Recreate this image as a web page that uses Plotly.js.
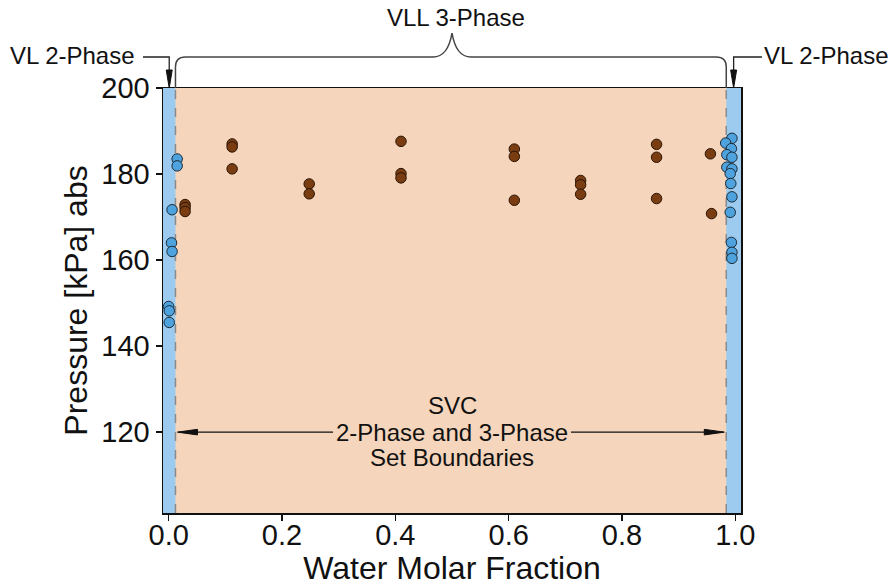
<!DOCTYPE html>
<html><head><meta charset="utf-8">
<script src="https://cdn.plot.ly/plotly-3.0.1.min.js"></script>
<style>html,body{margin:0;padding:0;background:#fff}</style>
</head><body><div id="chart" style="width:888px;height:586px"></div>
<script>
// ---- data ----
const vlLeftWater = [0.015, 0.015, 0.006, 0.005, 0.006, 0.000, 0.001, 0.001];
const vlLeftPressure = [183.5, 181.9, 171.7, 164.0, 162.0, 149.2, 148.2, 145.5];
const vlRightWater = [0.994, 0.983, 0.993, 0.985, 0.994, 0.985, 0.994, 0.991, 0.992, 0.994, 0.991, 0.993, 0.994, 0.994];
const vlRightPressure = [188.3, 187.2, 185.9, 184.5, 183.9, 181.6, 181.2, 180.1, 177.8, 174.7, 171.1, 164.1, 161.8, 160.4];
const vllWater = [0.029, 0.029, 0.029, 0.112, 0.112, 0.112, 0.248, 0.248, 0.41, 0.41, 0.41,
                  0.61, 0.61, 0.61, 0.727, 0.727, 0.727, 0.861, 0.861, 0.861, 0.956, 0.958];
const vllPressure = [172.9, 172.2, 171.3, 187.0, 186.3, 181.2, 177.7, 175.4, 187.6, 180.1, 179.1,
                     185.8, 184.1, 173.9, 178.5, 177.5, 175.3, 186.9, 183.9, 174.3, 184.7, 170.8];
const boundaryLeft = 0.012;
const boundaryRight = 0.984;
const xTicks = [0, 0.2, 0.4, 0.6, 0.8, 1.0];
const yTicks = [120, 140, 160, 180, 200];

// ---- geometry ----
const W = 888, H = 586;
const M = {l: 163, r: 147, t: 88, b: 73};
const xRange = [-0.01, 1.01], yRange = [101.2, 200];
const pw = W - M.l - M.r, ph = H - M.t - M.b;
const dx2px = x => M.l + (x - xRange[0]) / (xRange[1] - xRange[0]) * pw;
const dy2px = y => M.t + (yRange[1] - y) / (yRange[1] - yRange[0]) * ph;
const px2paperX = px => (px - M.l) / pw;
const px2paperY = py => (M.t + ph - py) / ph;
const pt = (px, py) => px2paperX(px).toFixed(5) + ',' + px2paperY(py).toFixed(5);

const peach = '#f5d5bb', band = '#9ccbef';
const font = 'Liberation Sans, Arial, Helvetica, sans-serif';

const xl = dx2px(boundaryLeft), xr = dx2px(boundaryRight), xm = dx2px(0.5);
const yTop = M.t, yBr = 57, yTip = 33;
const bracePath = `M${pt(xl, yTop)} L${pt(xl, yBr + 10)} Q${pt(xl, yBr)} ${pt(xl + 10, yBr)} L${pt(xm - 19, yBr)} ` +
  `C${pt(xm - 7, yBr)} ${pt(xm - 2, yBr - 12)} ${pt(xm, yTip)} C${pt(xm + 2, yBr - 12)} ${pt(xm + 7, yBr)} ${pt(xm + 19, yBr)} ` +
  `L${pt(xr - 10, yBr)} Q${pt(xr, yBr)} ${pt(xr, yBr + 10)} L${pt(xr, yTop)}`;

const aL = dx2px((xRange[0] + boundaryLeft) / 2), aR = dx2px((boundaryRight + xRange[1]) / 2);
const elbowL = `M${pt(143, yBr)} L${pt(aL, yBr)} L${pt(aL, 75)}`;
const elbowR = `M${pt(762, yBr)} L${pt(aR, yBr)} L${pt(aR, 75)}`;
const tri = (x, y0, y1) => `M${pt(x - 3, y0)} L${pt(x + 3, y0)} L${pt(x, y1)} Z`;

const yA = dy2px(120);
const gap = 119;
const dblLine = `M${pt(xl + 3, yA)} L${pt(xm - gap, yA)} M${pt(xm + gap, yA)} L${pt(xr - 3, yA)}`;
const headL = `M${pt(xl + 2, yA)} L${pt(xl + 22, yA - 2.8)} L${pt(xl + 22, yA + 2.8)} Z`;
const headR = `M${pt(xr - 2, yA)} L${pt(xr - 22, yA - 2.8)} L${pt(xr - 22, yA + 2.8)} Z`;

const markerBlue = {size: 10.5, color: '#4ea3df', line: {color: '#1c2a36', width: 1}};
const markerBrown = {size: 10.5, color: '#7a3d12', line: {color: '#2a1505', width: 1}};

const traces = [
  {x: vlLeftWater, y: vlLeftPressure, type: 'scatter', mode: 'markers', marker: markerBlue, name: 'VL 2-Phase'},
  {x: vlRightWater, y: vlRightPressure, type: 'scatter', mode: 'markers', marker: markerBlue, name: 'VL 2-Phase'},
  {x: vllWater, y: vllPressure, type: 'scatter', mode: 'markers', marker: markerBrown, name: 'VLL 3-Phase'}
];

const shapes = [
  {type: 'rect', xref: 'x', yref: 'paper', x0: xRange[0], x1: boundaryLeft, y0: 0, y1: 1, fillcolor: band, line: {width: 0}, layer: 'below'},
  {type: 'rect', xref: 'x', yref: 'paper', x0: boundaryRight, x1: xRange[1], y0: 0, y1: 1, fillcolor: band, line: {width: 0}, layer: 'below'},
  {type: 'line', xref: 'x', yref: 'paper', x0: boundaryLeft, x1: boundaryLeft, y0: 0, y1: 1, line: {color: '#8a8a8a', width: 1.5, dash: 'dash'}, layer: 'below'},
  {type: 'line', xref: 'x', yref: 'paper', x0: boundaryRight, x1: boundaryRight, y0: 0, y1: 1, line: {color: '#8a8a8a', width: 1.5, dash: 'dash'}, layer: 'below'},
  {type: 'path', xref: 'paper', yref: 'paper', path: bracePath, line: {color: '#444', width: 1.5}},
  {type: 'path', xref: 'paper', yref: 'paper', path: elbowL, line: {color: '#222', width: 1.3}},
  {type: 'path', xref: 'paper', yref: 'paper', path: elbowR, line: {color: '#222', width: 1.3}},
  {type: 'path', xref: 'paper', yref: 'paper', path: tri(aL, 70, 88), fillcolor: '#111', line: {color: '#111', width: 1}},
  {type: 'path', xref: 'paper', yref: 'paper', path: tri(aR, 70, 88), fillcolor: '#111', line: {color: '#111', width: 1}},
  {type: 'path', xref: 'paper', yref: 'paper', path: dblLine, line: {color: '#111', width: 1.3}},
  {type: 'path', xref: 'paper', yref: 'paper', path: headL, fillcolor: '#111', line: {color: '#111', width: 1}},
  {type: 'path', xref: 'paper', yref: 'paper', path: headR, fillcolor: '#111', line: {color: '#111', width: 1}}
];

const annFont = {family: font, size: 24, color: '#111'};
const annotations = [
  {xref: 'paper', yref: 'paper', x: px2paperX(xm + 4), y: px2paperY(18), text: 'VLL 3-Phase', showarrow: false, font: annFont, xanchor: 'center', yanchor: 'middle'},
  {xref: 'paper', yref: 'paper', x: px2paperX(137), y: px2paperY(55), text: 'VL 2-Phase', showarrow: false, font: annFont, xanchor: 'right', yanchor: 'middle'},
  {xref: 'paper', yref: 'paper', x: px2paperX(762), y: px2paperY(55), text: 'VL 2-Phase', showarrow: false, font: annFont, xanchor: 'left', yanchor: 'middle'},
  {xref: 'paper', yref: 'paper', x: px2paperX(xm), y: px2paperY(405), text: 'SVC', showarrow: false, font: annFont, xanchor: 'center', yanchor: 'middle'},
  {xref: 'paper', yref: 'paper', x: px2paperX(xm), y: px2paperY(yA), text: '2-Phase and 3-Phase', showarrow: false, font: annFont, xanchor: 'center', yanchor: 'middle', borderpad: 0},
  {xref: 'paper', yref: 'paper', x: px2paperX(xm), y: px2paperY(457), text: 'Set Boundaries', showarrow: false, font: annFont, xanchor: 'center', yanchor: 'middle'}
];

const layout = {
  width: W, height: H,
  margin: M,
  paper_bgcolor: '#ffffff',
  plot_bgcolor: peach,
  showlegend: false,
  font: {family: font, color: '#111'},
  xaxis: {
    range: xRange, tickvals: xTicks, tickformat: '.1f',
    ticks: 'outside', ticklen: 6, tickwidth: 1.5, tickcolor: '#111',
    showline: true, linecolor: '#111', linewidth: 1.5, mirror: true,
    showgrid: false, zeroline: false,
    ticklabelstandoff: -10,
    tickfont: {family: font, size: 29, color: '#111'},
    title: {text: 'Water Molar Fraction', font: {family: font, size: 32, color: '#111'}, standoff: 10}
  },
  yaxis: {
    range: yRange, tickvals: yTicks,
    ticks: 'outside', ticklen: 6, tickwidth: 1.5, tickcolor: '#111',
    showline: true, linecolor: '#111', linewidth: 1.5, mirror: true,
    showgrid: false, zeroline: false,
    tickfont: {family: font, size: 29, color: '#111'},
    title: {text: 'Pressure [kPa] abs', font: {family: font, size: 32, color: '#111'}, standoff: 4}
  },
  shapes: shapes,
  annotations: annotations
};

Plotly.newPlot('chart', traces, layout, {displayModeBar: false, staticPlot: true});
</script></body></html>
